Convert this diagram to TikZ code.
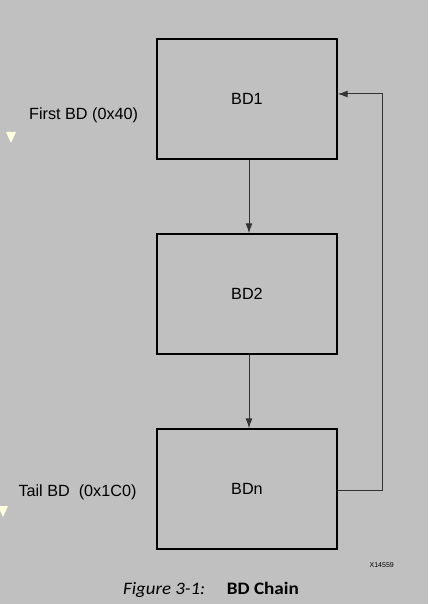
\documentclass[tikz,border=0pt]{standalone}
\usepackage{fontspec}
\setmainfont{Liberation Sans}
\newfontfamily\capfont{Carlito}
\usetikzlibrary{arrows.meta,calc}
\definecolor{bg}{HTML}{C0C0C0}
\definecolor{cream}{HTML}{FFFFE0}
\definecolor{conn}{HTML}{333333}
\begin{document}
\begin{tikzpicture}[x=1pt,y=-1pt,
  bdbox/.style={draw=black,line width=1.4pt,minimum width=180pt,minimum height=120pt,inner sep=0pt,font=\fontsize{16.2}{18}\selectfont},
  link/.style={draw=conn,line width=1pt,-{Latex[length=10pt,width=7pt]}},
  lbl/.style={font=\fontsize{16.2}{18}\selectfont,inner sep=0pt},
  marker/.style={fill=cream,draw=none}]
\fill[bg] (0,0) rectangle (428,604);
\useasboundingbox (0,0) rectangle (428,604);
\node[bdbox] (bd1) at (247,99) {BD1};
\node[bdbox] (bd2) at (247,294) {BD2};
\node[bdbox] (bdn) at (247,489) {BDn};
\draw[link] ($(bd1.south)+(2,0)$) -- ($(bd2.north)+(2,0)$);
\draw[link] ($(bd2.south)+(2,0)$) -- ($(bdn.north)+(2,0)$);
\coordinate (r1) at (382,490);
\coordinate (r2) at (382,94);
\draw[link] (bdn.east |- r1) -- (r1) -- (r2) -- (bd1.east |- r2);
\node[lbl,anchor=base west] (first) at (29,119.3) {First BD (0x40)};
\node[lbl,anchor=base west] (tail) at (18.3,496) {Tail BD\ \ (0x1C0)};
\fill[marker] (6,132) -- (16,132) -- (11,143) -- cycle;
\fill[marker] (-2,506) -- (8,506) -- (3,517) -- cycle;
\node[font=\fontsize{7}{8}\selectfont,inner sep=0pt,anchor=base east] (xid) at (394,567.5) {X14559};
\node[inner sep=0pt,anchor=base west] (capa) at (123,594.5) {\resizebox{82pt}{\height}{\capfont\fontsize{17.5}{20}\selectfont\itshape Figure 3-1:}};
\node[inner sep=0pt,anchor=base west] (capb) at (226.7,594.5) {\resizebox{72pt}{\height}{\capfont\fontsize{17.5}{20}\selectfont\bfseries BD Chain}};
\end{tikzpicture}
\end{document}
